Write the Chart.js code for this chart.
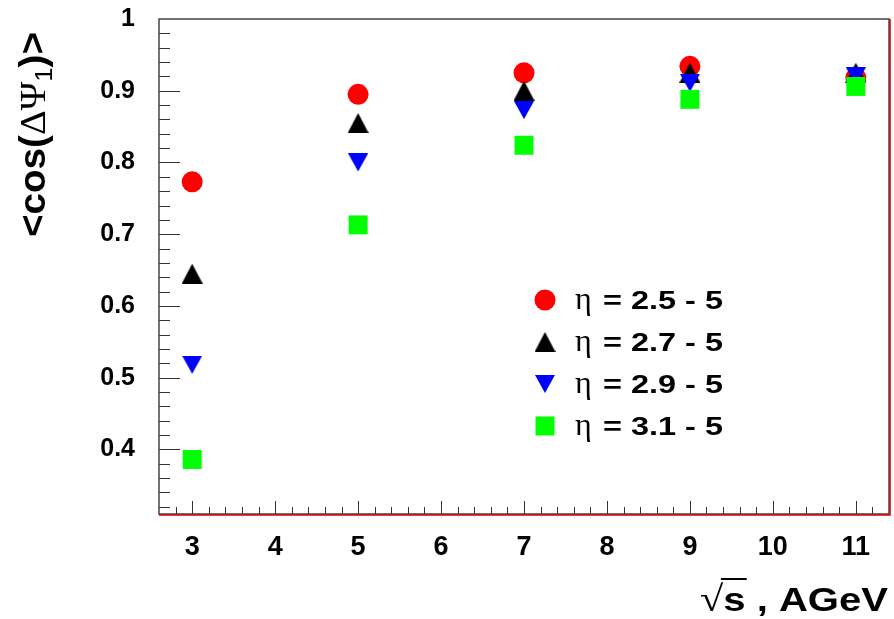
<!DOCTYPE html>
<html lang="en">
<head>
<meta charset="UTF-8">
<title>cos(ΔΨ1) vs sqrt(s)</title>
<style>
    body { margin: 0; background: #fff; }
    canvas { display: block; }
</style>
</head>
<body>
<canvas id="chart" width="894" height="619"></canvas>
<script src="https://cdn.jsdelivr.net/npm/chart.js"></script>
<script>
// data
const energies = [3, 5, 7, 9, 11];
const eta25 = [0.773, 0.895, 0.925, 0.934, 0.918];
const eta27 = [0.645, 0.855, 0.900, 0.925, 0.925];
const eta29 = [0.518, 0.800, 0.873, 0.911, 0.920];
const eta31 = [0.386, 0.713, 0.824, 0.888, 0.906];
const seriesLabels = ['= 2.5 - 5', '= 2.7 - 5', '= 2.9 - 5', '= 3.1 - 5'];
const xTickValues = [3, 4, 5, 6, 7, 8, 9, 10, 11];
const yTickValues = [0.4, 0.5, 0.6, 0.7, 0.8, 0.9, 1];

const SANS = '"Liberation Sans", Arial, Helvetica, sans-serif';
const SERIF = '"Liberation Serif", "DejaVu Serif", serif';

function triangle(w, h, color, down) {
    const c = document.createElement('canvas');
    c.width = w; c.height = h;
    const g = c.getContext('2d');
    g.fillStyle = color;
    g.beginPath();
    if (down) { g.moveTo(0, 0); g.lineTo(w, 0); g.lineTo(w / 2, h); }
    else { g.moveTo(w / 2, 0); g.lineTo(w, h); g.lineTo(0, h); }
    g.closePath();
    g.fill();
    return c;
}
const upTri = triangle(21, 20, '#000000', false);
const downTri = triangle(20, 18, '#0000ff', true);

const markers = [
    { style: 'circle', radius: 10.5, color: '#ff0000' },
    { style: upTri, radius: 10, color: '#000000' },
    { style: downTri, radius: 10, color: '#0000ff' },
    { style: 'rect', radius: 13.4, color: '#00ff00' }
];

function series(values, i) {
    const m = markers[i];
    return {
        label: seriesLabels[i],
        data: energies.map((x, k) => ({ x: x, y: values[k] })),
        pointStyle: m.style,
        pointRadius: m.radius,
        pointHoverRadius: m.radius,
        backgroundColor: m.color,
        borderColor: m.color,
        borderWidth: 0,
        showLine: false,
        order: 4 - i
    };
}

// frame, inside ticks, x labels, titles and legend
const rootStyle = {
    id: 'rootStyle',
    beforeDatasetsDraw(chart) {
        const { ctx, chartArea: a, scales } = chart;
        const xs = scales.x, ys = scales.y;
        ctx.save();
        ctx.strokeStyle = '#333';
        ctx.lineWidth = 1;
        ctx.beginPath();
        for (let v = 0.32; v < 1.0; v += 0.02) {
            const y = Math.round(ys.getPixelForValue(v)) + 0.5;
            const major = Math.abs(v * 10 - Math.round(v * 10)) < 1e-6;
            ctx.moveTo(a.left, y);
            ctx.lineTo(a.left + (major ? 21 : 11), y);
        }
        for (let v = 2.8; v < 11.3; v += 0.2) {
            const x = Math.round(xs.getPixelForValue(v)) + 0.5;
            const major = Math.abs(v - Math.round(v)) < 1e-6;
            ctx.moveTo(x, a.bottom);
            ctx.lineTo(x, a.bottom - (major ? 13 : 7));
        }
        ctx.stroke();
        // frame
        ctx.strokeStyle = '#444';
        ctx.lineWidth = 1.5;
        ctx.strokeRect(a.left, a.top, a.right - a.left, a.bottom - a.top);
        ctx.strokeStyle = '#d00000';
        ctx.lineWidth = 1.5;
        ctx.beginPath();
        ctx.moveTo(a.left, a.bottom + 1);
        ctx.lineTo(a.right + 1, a.bottom + 1);
        ctx.lineTo(a.right + 1, a.top);
        ctx.stroke();

        // x tick labels
        ctx.fillStyle = '#000';
        ctx.font = 'bold 27px ' + SANS;
        ctx.textAlign = 'center';
        ctx.textBaseline = 'alphabetic';
        xTickValues.forEach(v => ctx.fillText(String(v), xs.getPixelForValue(v), a.bottom + 41));
        ctx.restore();
    },
    afterDraw(chart) {
        const ctx = chart.ctx;
        ctx.save();
        ctx.fillStyle = '#000';
        ctx.textBaseline = 'alphabetic';

        // y title, rotated
        ctx.save();
        ctx.translate(45, 237);
        ctx.rotate(-Math.PI / 2);
        const yParts = [
            { t: '<cos(', f: 'bold 36px ' + SANS, dy: 0 },
            { t: 'ΔΨ', f: '36px ' + SERIF, dy: 0 },
            { t: '1', f: '24px ' + SANS, dy: 7 },
            { t: ')>', f: 'bold 36px ' + SANS, dy: 0 }
        ];
        let total = 0;
        yParts.forEach(p => { ctx.font = p.f; p.w = ctx.measureText(p.t).width; total += p.w; });
        ctx.scale(205 / total, 1);
        let px = 0;
        yParts.forEach(p => { ctx.font = p.f; ctx.fillText(p.t, px, p.dy); px += p.w; });
        ctx.restore();

        // x title
        ctx.save();
        ctx.font = '36px ' + SERIF;
        const rad = ctx.measureText('√').width;
        ctx.font = 'bold 34px ' + SANS;
        const sW = ctx.measureText('s').width;
        const restW = ctx.measureText(' , AGeV').width;
        const sx = 188 / (rad + sW + restW);
        ctx.translate(700, 611);
        ctx.scale(sx, 1);
        ctx.font = '36px ' + SERIF;
        ctx.fillText('√', 0, 0);
        ctx.font = 'bold 34px ' + SANS;
        ctx.fillText('s', rad, 0);
        ctx.fillText(' , AGeV', rad + sW, 0);
        ctx.lineWidth = 2;
        ctx.beginPath();
        ctx.moveTo(rad - 2, -32);
        ctx.lineTo(rad + sW + 1, -32);
        ctx.stroke();
        ctx.restore();

        // legend
        const rows = [300, 342, 384, 426];
        rows.forEach((cy, i) => {
            const m = markers[i];
            ctx.fillStyle = m.color;
            if (m.style === 'circle') {
                ctx.beginPath(); ctx.arc(545, cy, 10.5, 0, Math.PI * 2); ctx.fill();
            } else if (m.style === 'rect') {
                ctx.fillRect(545 - 9.5, cy - 9.5, 19, 19);
            } else {
                ctx.drawImage(m.style, 545 - m.style.width / 2, cy - m.style.height / 2);
            }
            ctx.fillStyle = '#000';
            ctx.font = '32px ' + SERIF;
            ctx.fillText('η', 575, cy + 9);
            ctx.save();
            ctx.font = 'bold 26px ' + SANS;
            const w = ctx.measureText(seriesLabels[i]).width;
            ctx.translate(603, cy + 9);
            ctx.scale(120 / w, 1);
            ctx.fillText(seriesLabels[i], 0, 0);
            ctx.restore();
        });
        ctx.restore();
    }
};

new Chart(document.getElementById('chart'), {
    type: 'scatter',
    data: {
        datasets: [series(eta25, 0), series(eta27, 1), series(eta29, 2), series(eta31, 3)]
    },
    options: {
        responsive: false,
        animation: false,
        events: [],
        layout: { autoPadding: false, padding: { top: 19, right: 5, left: 0, bottom: 0 } },
        plugins: { legend: { display: false }, tooltip: { enabled: false } },
        scales: {
            x: {
                type: 'linear',
                min: 2.6,
                max: 11.4,
                afterBuildTicks: s => { s.ticks = xTickValues.map(v => ({ value: v })); },
                afterFit: s => { s.height = 105; s.paddingLeft = 0; s.paddingRight = 0; },
                grid: { display: false, drawTicks: false },
                border: { display: false },
                ticks: { display: false }
            },
            y: {
                type: 'linear',
                min: 0.31,
                max: 1.0,
                afterBuildTicks: s => { s.ticks = yTickValues.map(v => ({ value: v })); },
                afterFit: s => { s.width = 159; s.paddingTop = 0; s.paddingBottom = 0; },
                grid: { display: false, drawTicks: false },
                border: { display: false },
                ticks: {
                    padding: 24,
                    autoSkip: false,
                    color: '#000',
                    font: { family: SANS, size: 25, weight: 'bold' },
                    callback: v => String(Math.round(v * 10) / 10)
                }
            }
        }
    },
    plugins: [rootStyle]
});
</script>
</body>
</html>
